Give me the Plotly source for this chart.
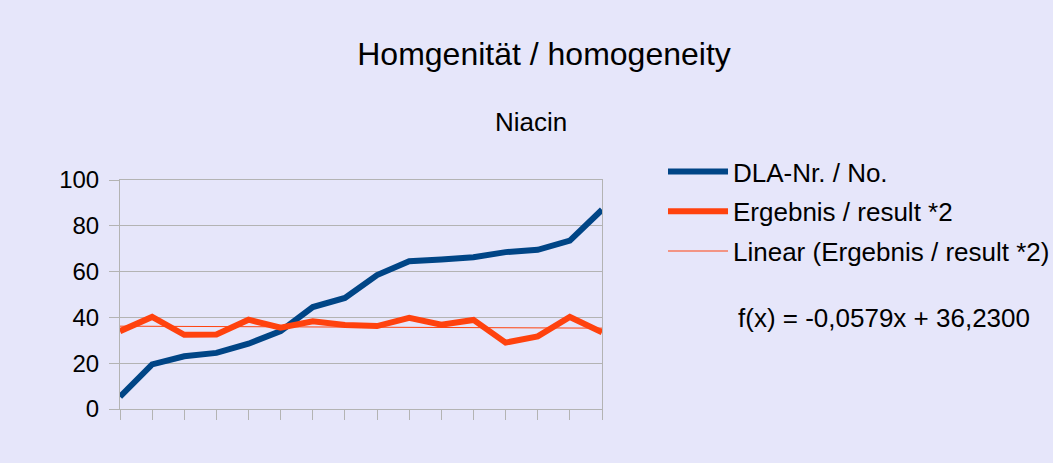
import plotly.graph_objects as go

# ---- data ----
samples = list(range(1, 17))
dla_nr = [5.4, 19.5, 23, 24.5, 28.5, 34, 44.5, 48.5, 58.5, 64.5, 65.3, 66.3, 68.5, 69.5, 73.5, 87]
ergebnis = [34, 40.2, 32.4, 32.5, 39, 35.5, 38.3, 36.7, 36.2, 39.8, 36.8, 38.9, 29, 31.7, 40.2, 33.5]
trend_slope = -0.0579
trend_intercept = 36.23
y_ticks = [0, 20, 40, 60, 80, 100]

trend = [trend_slope * x + trend_intercept for x in samples]

BLUE = "#004586"
ORANGE = "#FF420E"
BG = "#E6E6FA"
GRID = "#B3B3B3"
FONT = "Liberation Sans, Arial, sans-serif"

fig = go.Figure()
fig.add_trace(go.Scatter(x=samples, y=dla_nr, mode="lines", name="DLA-Nr. / No.",
                         line=dict(color=BLUE, width=6), legendgroup="a"))
fig.add_trace(go.Scatter(x=samples, y=ergebnis, mode="lines", name="Ergebnis / result *2",
                         line=dict(color=ORANGE, width=6), legendgroup="b"))
fig.add_trace(go.Scatter(x=samples, y=trend, mode="lines", name="Linear (Ergebnis / result *2)",
                         line=dict(color=ORANGE, width=1), legendgroup="c"))

fig.update_layout(
    width=1053, height=463,
    paper_bgcolor=BG, plot_bgcolor=BG,
    margin=dict(l=120, r=451, t=180, b=54),
    font=dict(family=FONT, color="black"),
    title=dict(text="Homgenität / homogeneity", x=544/1053, xref="container", xanchor="center",
               y=1 - 54/463, yref="container", yanchor="middle",
               font=dict(size=32, family=FONT, color="black")),
    annotations=[
        dict(text="Niacin", xref="paper", yref="paper", x=(531-120)/482, y=1 + (180-122)/229,
             xanchor="center", yanchor="middle", showarrow=False, font=dict(size=26)),
        dict(text="f(x) = -0,0579x + 36,2300", xref="paper", yref="paper",
             x=(736-120)/482, y=(409-318)/229, xanchor="left", yanchor="middle",
             showarrow=False, font=dict(size=26)),
    ],
    showlegend=True,
    legend=dict(xref="container", yref="container", x=663/1053, y=1 - 148/463,
                xanchor="left", yanchor="top", bgcolor="rgba(0,0,0,0)",
                font=dict(size=26, color="black"), traceorder="grouped", tracegroupgap=3,
                itemwidth=60),
)
fig.update_xaxes(range=[1, 16], tickmode="array", tickvals=samples, showticklabels=False,
                 ticks="outside", ticklen=10, tickcolor=GRID, showgrid=False,
                 showline=True, linecolor=GRID, mirror=True, zeroline=False, fixedrange=True)
fig.update_yaxes(range=[0, 100], tickmode="array", tickvals=y_ticks, ticks="outside",
                 ticklen=10, tickcolor=GRID, showgrid=True, gridcolor=GRID,
                 showline=True, linecolor=GRID, mirror=True, zeroline=False,
                 tickfont=dict(size=24, color="black"), ticklabelstandoff=5, fixedrange=True)

fig.write_html("out.html", config={"displayModeBar": False},
               post_script="document.body.style.margin='0';")
